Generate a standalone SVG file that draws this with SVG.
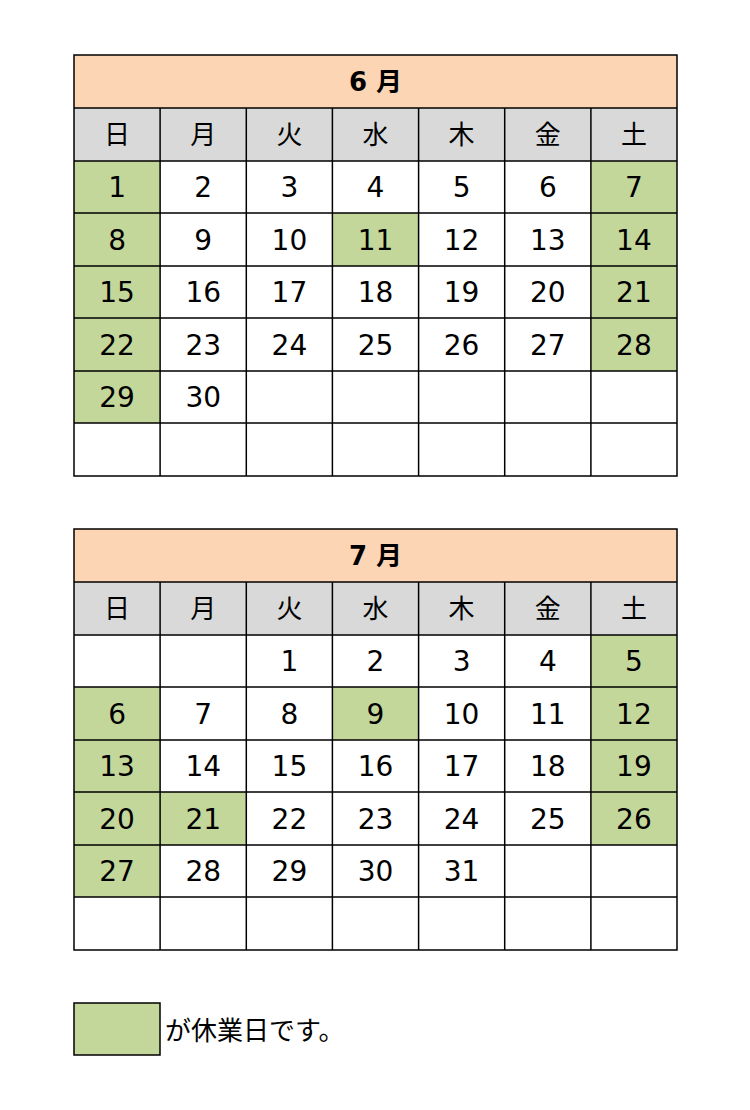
<svg xmlns="http://www.w3.org/2000/svg" width="750" height="1110" viewBox="0 0 750 1110">
<style>
.t{font-family:"DejaVu Sans","Noto Sans CJK JP",sans-serif;font-size:28px;text-anchor:middle;fill:#000}
.h{font-family:"DejaVu Sans","Noto Sans CJK JP",sans-serif;font-size:26px;font-weight:bold;text-anchor:middle}
.w{font-family:"Noto Sans CJK JP",sans-serif;font-size:26px;text-anchor:middle}
.g{fill:#C4D79B}
.ln{stroke:#000;stroke-width:1.5;fill:none}
</style>
<rect width="750" height="1110" fill="#fff"/>
<defs>
<path id="grid" class="ln" d="M74,55H677V476H74Z M74,108H677 M74,161H677 M74,213H677 M74,266H677 M74,318H677 M74,371H677 M74,423H677 M160.1,108V476 M246.3,108V476 M332.4,108V476 M418.6,108V476 M504.7,108V476 M590.9,108V476"/>
</defs>
<g id="june">
<rect x="74" y="55" width="603" height="53" fill="#FCD5B4"/>
<rect x="74" y="108" width="603" height="53" fill="#D9D9D9"/>
<g class="g">
<rect x="74" y="161" width="86.1" height="52"/><rect x="590.9" y="161" width="86.1" height="52"/>
<rect x="74" y="213" width="86.1" height="53"/><rect x="332.4" y="213" width="86.2" height="53"/><rect x="590.9" y="213" width="86.1" height="53"/>
<rect x="74" y="266" width="86.1" height="52"/><rect x="590.9" y="266" width="86.1" height="52"/>
<rect x="74" y="318" width="86.1" height="53"/><rect x="590.9" y="318" width="86.1" height="53"/>
<rect x="74" y="371" width="86.1" height="52"/>
</g>
<use href="#grid"/>
<text class="h" x="375.5" y="91">6 月</text>
<g class="w"><text x="117.1" y="144">日</text><text x="203.2" y="144">月</text><text x="289.4" y="144">火</text><text x="375.5" y="144">水</text><text x="461.6" y="144">木</text><text x="547.8" y="144">金</text><text x="633.9" y="144">土</text></g>
<g class="t">
<text x="117.1" y="197">1</text><text x="203.2" y="197">2</text><text x="289.4" y="197">3</text><text x="375.5" y="197">4</text><text x="461.6" y="197">5</text><text x="547.8" y="197">6</text><text x="633.9" y="197">7</text>
<text x="117.1" y="250">8</text><text x="203.2" y="250">9</text><text x="289.4" y="250">10</text><text x="375.5" y="250">11</text><text x="461.6" y="250">12</text><text x="547.8" y="250">13</text><text x="633.9" y="250">14</text>
<text x="117.1" y="302">15</text><text x="203.2" y="302">16</text><text x="289.4" y="302">17</text><text x="375.5" y="302">18</text><text x="461.6" y="302">19</text><text x="547.8" y="302">20</text><text x="633.9" y="302">21</text>
<text x="117.1" y="355">22</text><text x="203.2" y="355">23</text><text x="289.4" y="355">24</text><text x="375.5" y="355">25</text><text x="461.6" y="355">26</text><text x="547.8" y="355">27</text><text x="633.9" y="355">28</text>
<text x="117.1" y="407">29</text><text x="203.2" y="407">30</text>
</g>
</g>
<g id="july" transform="translate(0,474)">
<rect x="74" y="55" width="603" height="53" fill="#FCD5B4"/>
<rect x="74" y="108" width="603" height="53" fill="#D9D9D9"/>
<g class="g">
<rect x="590.9" y="161" width="86.1" height="52"/>
<rect x="74" y="213" width="86.1" height="53"/><rect x="332.4" y="213" width="86.2" height="53"/><rect x="590.9" y="213" width="86.1" height="53"/>
<rect x="74" y="266" width="86.1" height="52"/><rect x="590.9" y="266" width="86.1" height="52"/>
<rect x="74" y="318" width="86.1" height="53"/><rect x="160.1" y="318" width="86.2" height="53"/><rect x="590.9" y="318" width="86.1" height="53"/>
<rect x="74" y="371" width="86.1" height="52"/>
</g>
<use href="#grid"/>
<text class="h" x="375.5" y="91">7 月</text>
<g class="w"><text x="117.1" y="144">日</text><text x="203.2" y="144">月</text><text x="289.4" y="144">火</text><text x="375.5" y="144">水</text><text x="461.6" y="144">木</text><text x="547.8" y="144">金</text><text x="633.9" y="144">土</text></g>
<g class="t">
<text x="289.4" y="197">1</text><text x="375.5" y="197">2</text><text x="461.6" y="197">3</text><text x="547.8" y="197">4</text><text x="633.9" y="197">5</text>
<text x="117.1" y="250">6</text><text x="203.2" y="250">7</text><text x="289.4" y="250">8</text><text x="375.5" y="250">9</text><text x="461.6" y="250">10</text><text x="547.8" y="250">11</text><text x="633.9" y="250">12</text>
<text x="117.1" y="302">13</text><text x="203.2" y="302">14</text><text x="289.4" y="302">15</text><text x="375.5" y="302">16</text><text x="461.6" y="302">17</text><text x="547.8" y="302">18</text><text x="633.9" y="302">19</text>
<text x="117.1" y="355">20</text><text x="203.2" y="355">21</text><text x="289.4" y="355">22</text><text x="375.5" y="355">23</text><text x="461.6" y="355">24</text><text x="547.8" y="355">25</text><text x="633.9" y="355">26</text>
<text x="117.1" y="407">27</text><text x="203.2" y="407">28</text><text x="289.4" y="407">29</text><text x="375.5" y="407">30</text><text x="461.6" y="407">31</text>
</g>
</g>
<g id="legend">
<rect x="74" y="1003" width="86" height="52" fill="#C4D79B" stroke="#000" stroke-width="1.5"/>
<text x="165" y="1040" style="font-family:'Noto Sans CJK JP',sans-serif;font-size:26px">が休業日です。</text>
</g>
</svg>
